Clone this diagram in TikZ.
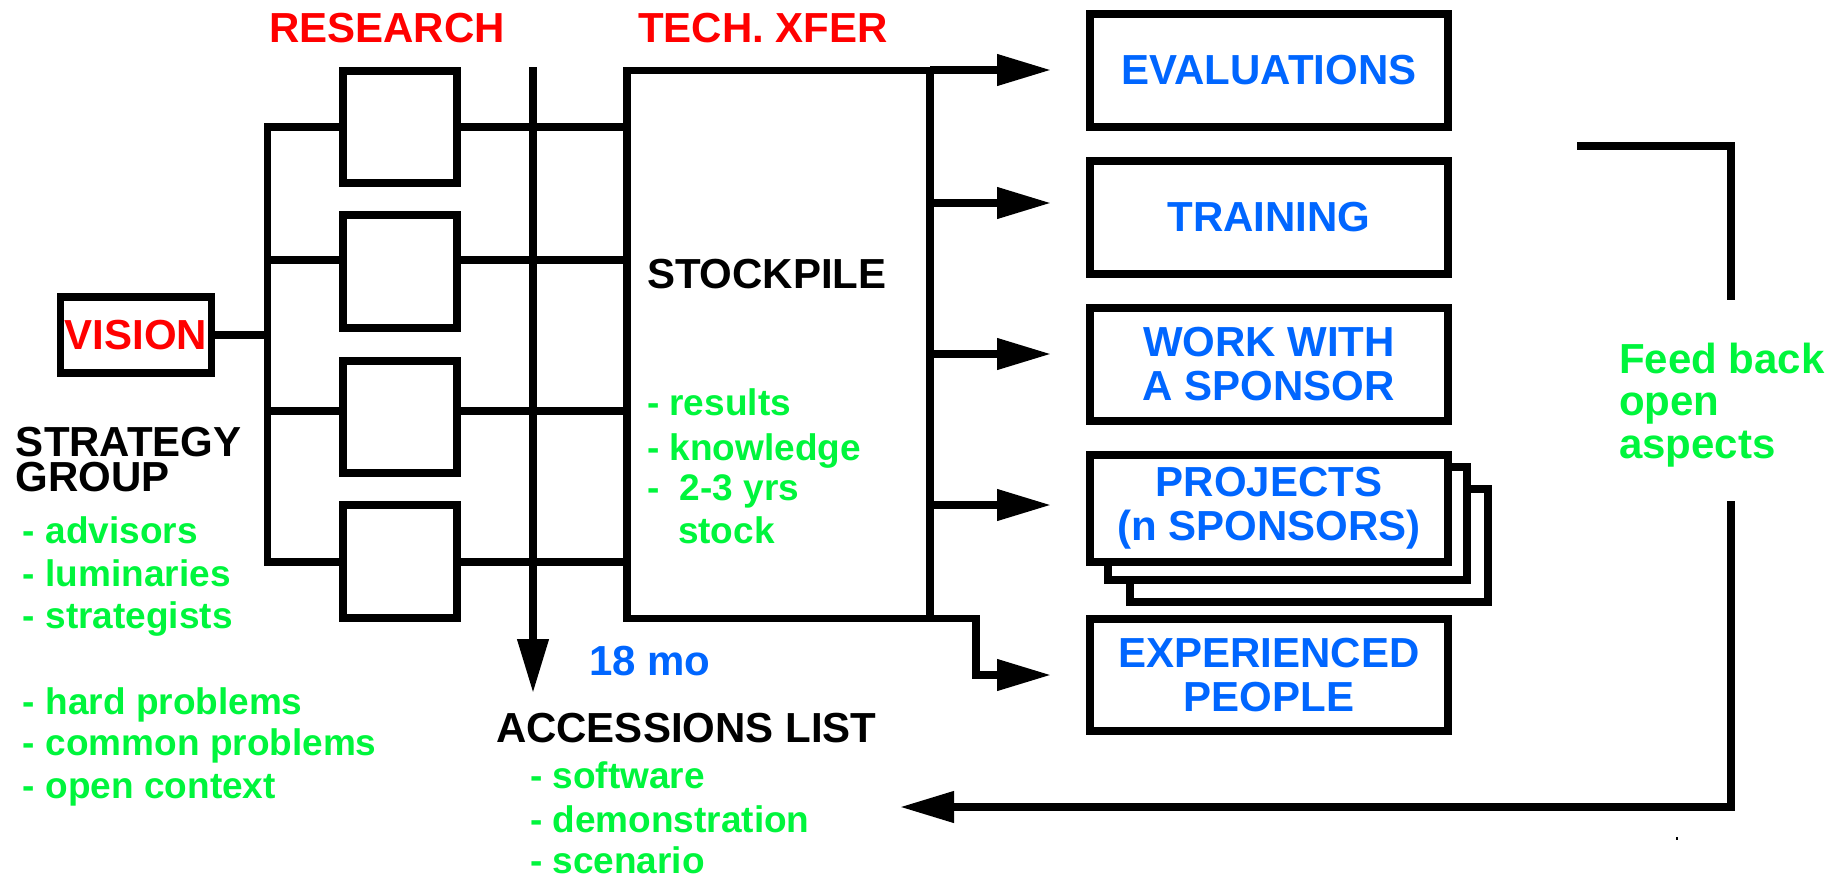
\documentclass[tikz,border=0pt]{standalone}
\usepackage{fontspec}
\setmainfont{Liberation Sans}
\usetikzlibrary{arrows.meta}
\definecolor{myred}{RGB}{255,0,0}
\definecolor{mygreen}{RGB}{0,245,60}
\definecolor{myblue}{RGB}{0,102,255}
\begin{document}
\begin{tikzpicture}[x=1pt,y=-1pt,
  line width=7.5pt, line join=miter, line cap=butt,
  head/.style={font=\fontsize{42}{44}\selectfont\bfseries, inner sep=0pt, outer sep=0pt, anchor=base west},
  item/.style={font=\fontsize{37}{42.5}\selectfont\bfseries, text=mygreen, inner sep=0pt, outer sep=0pt, anchor=base west},
  box/.style={draw, fill=white, inner sep=0pt, outer sep=0pt, rectangle},
  rbox/.style={box, minimum width=358pt, minimum height=113pt, align=center, text=myblue, font=\fontsize{42}{44}\selectfont\bfseries},
  tip/.style={-{Triangle[length=54pt,width=30pt]}},
]
\useasboundingbox (0,0) rectangle (1848,878);

% research boxes
\node[box, minimum width=114pt, minimum height=112pt] (r1) at (400,127) {};
\node[box, minimum width=114pt, minimum height=113pt] (r2) at (400,271.5) {};
\node[box, minimum width=114pt, minimum height=112pt] (r3) at (400,417) {};
\node[box, minimum width=114pt, minimum height=113pt] (r4) at (400,561.5) {};

% vision
\node[box, minimum width=151pt, minimum height=76pt, text=myred, font=\fontsize{42}{44}\selectfont\bfseries] (vision) at (136,335) {VISION};

% bus
\coordinate (b1) at (267.5,127);
\coordinate (b2) at (267.5,260);
\coordinate (b3) at (267.5,411);
\coordinate (b4) at (267.5,562);
\draw (r1.west |- b1) -- (b1) -- (b4) -- (r4.west |- b4);
\draw (b2) -- (b2 -| r2.west);
\draw (b3) -- (b3 -| r3.west);
\draw (vision.east) -- (vision.east -| b1);

% stockpile
\node[box, minimum width=303pt, minimum height=548pt] (stock) at (778.5,344.5) {};
\draw (b1 -| r1.east) -- (b1 -| stock.west);
\draw (b2 -| r2.east) -- (b2 -| stock.west);
\draw (b3 -| r3.east) -- (b3 -| stock.west);
\draw (b4 -| r4.east) -- (b4 -| stock.west);

% vertical arrow
\coordinate (vtop) at (533,67);
\coordinate (vbot) at (533,693);
\draw[tip] (vtop) -- (vbot);

% right boxes
\node[rbox] (eval) at (1269,70.5) {EVALUATIONS};
\node[rbox] (train) at (1269,217.5) {TRAINING};
\node[rbox] (work) at (1269,364.5) {WORK WITH\\A SPONSOR};
\node[box, minimum width=358pt, minimum height=113pt] (proj3) at (1309,545.5) {};
\node[box, minimum width=359pt, minimum height=113pt] (proj2) at (1287.5,523.5) {};
\node[rbox, minimum height=107pt] (proj) at (1269,508.5) {PROJECTS\\(n SPONSORS)};
\node[rbox, minimum height=112pt] (exp) at (1269,675) {EXPERIENCED\\PEOPLE};

% arrows to right boxes
\coordinate (a1) at (1051,70);
\coordinate (a2) at (1051,203);
\coordinate (a3) at (1051,354);
\coordinate (a4) at (1051,505);
\coordinate (a5) at (1051,675);
\coordinate (k1) at (976,618.5);
\draw[tip] (stock.east |- a1) -- (a1);
\draw[tip] (stock.east |- a2) -- (a2);
\draw[tip] (stock.east |- a3) -- (a3);
\draw[tip] (stock.east |- a4) -- (a4);
\draw[tip] (stock.south east) -- (k1) -- (k1 |- a5) -- (a5);

% feedback loop
\coordinate (f0) at (1577,146);
\coordinate (f1) at (1731,146);
\coordinate (f2) at (1731,300);
\coordinate (f3) at (1731,501);
\coordinate (f4) at (1731,807);
\coordinate (f5) at (900,807);
\draw (f0) -- (f1) -- (f2);
\draw[tip] (f3) -- (f4) -- (f5);
\fill (1675.5,837) rectangle (1677.5,840);

% texts
\node[head, text=myred] (research) at (269,42) {RESEARCH};
\node[head, text=myred] (techx) at (638,42) {TECH. XFER};
\node[head] (stocklbl) at (647,288) {STOCKPILE};
\node[item] (s1) at (647,415) {- results};
\node[item] (s2) at (647,460) {- knowledge};
\node[item] (s3) at (647,500) {-\ \ 2-3 yrs};
\node[item] (s4) at (678,543) {stock};

\node[head, anchor=north west, align=left, font=\fontsize{42}{35}\selectfont\bfseries] (strat) at (16,427.5) {STRATEGY\\GROUP};
\node[item] (g1) at (23,543) {- advisors};
\node[item] (g2) at (23,586) {- luminaries};
\node[item] (g3) at (23,628) {- strategists};
\node[item] (g4) at (23,714) {- hard problems};
\node[item] (g5) at (23,755) {- common problems};
\node[item] (g6) at (23,798) {- open context};

\node[head, text=myblue] (mo) at (589,675) {18 mo};
\node[head] (acc) at (496,742) {ACCESSIONS LIST};
\node[item] (c1) at (530,788) {- software};
\node[item] (c2) at (530,832) {- demonstration};
\node[item] (c3) at (530,873) {- scenario};

\node[head, text=mygreen] (fb1) at (1619,373) {Feed back};
\node[head, text=mygreen] (fb2) at (1619,415) {open};
\node[head, text=mygreen] (fb3) at (1619,458) {aspects};
\end{tikzpicture}
\end{document}
